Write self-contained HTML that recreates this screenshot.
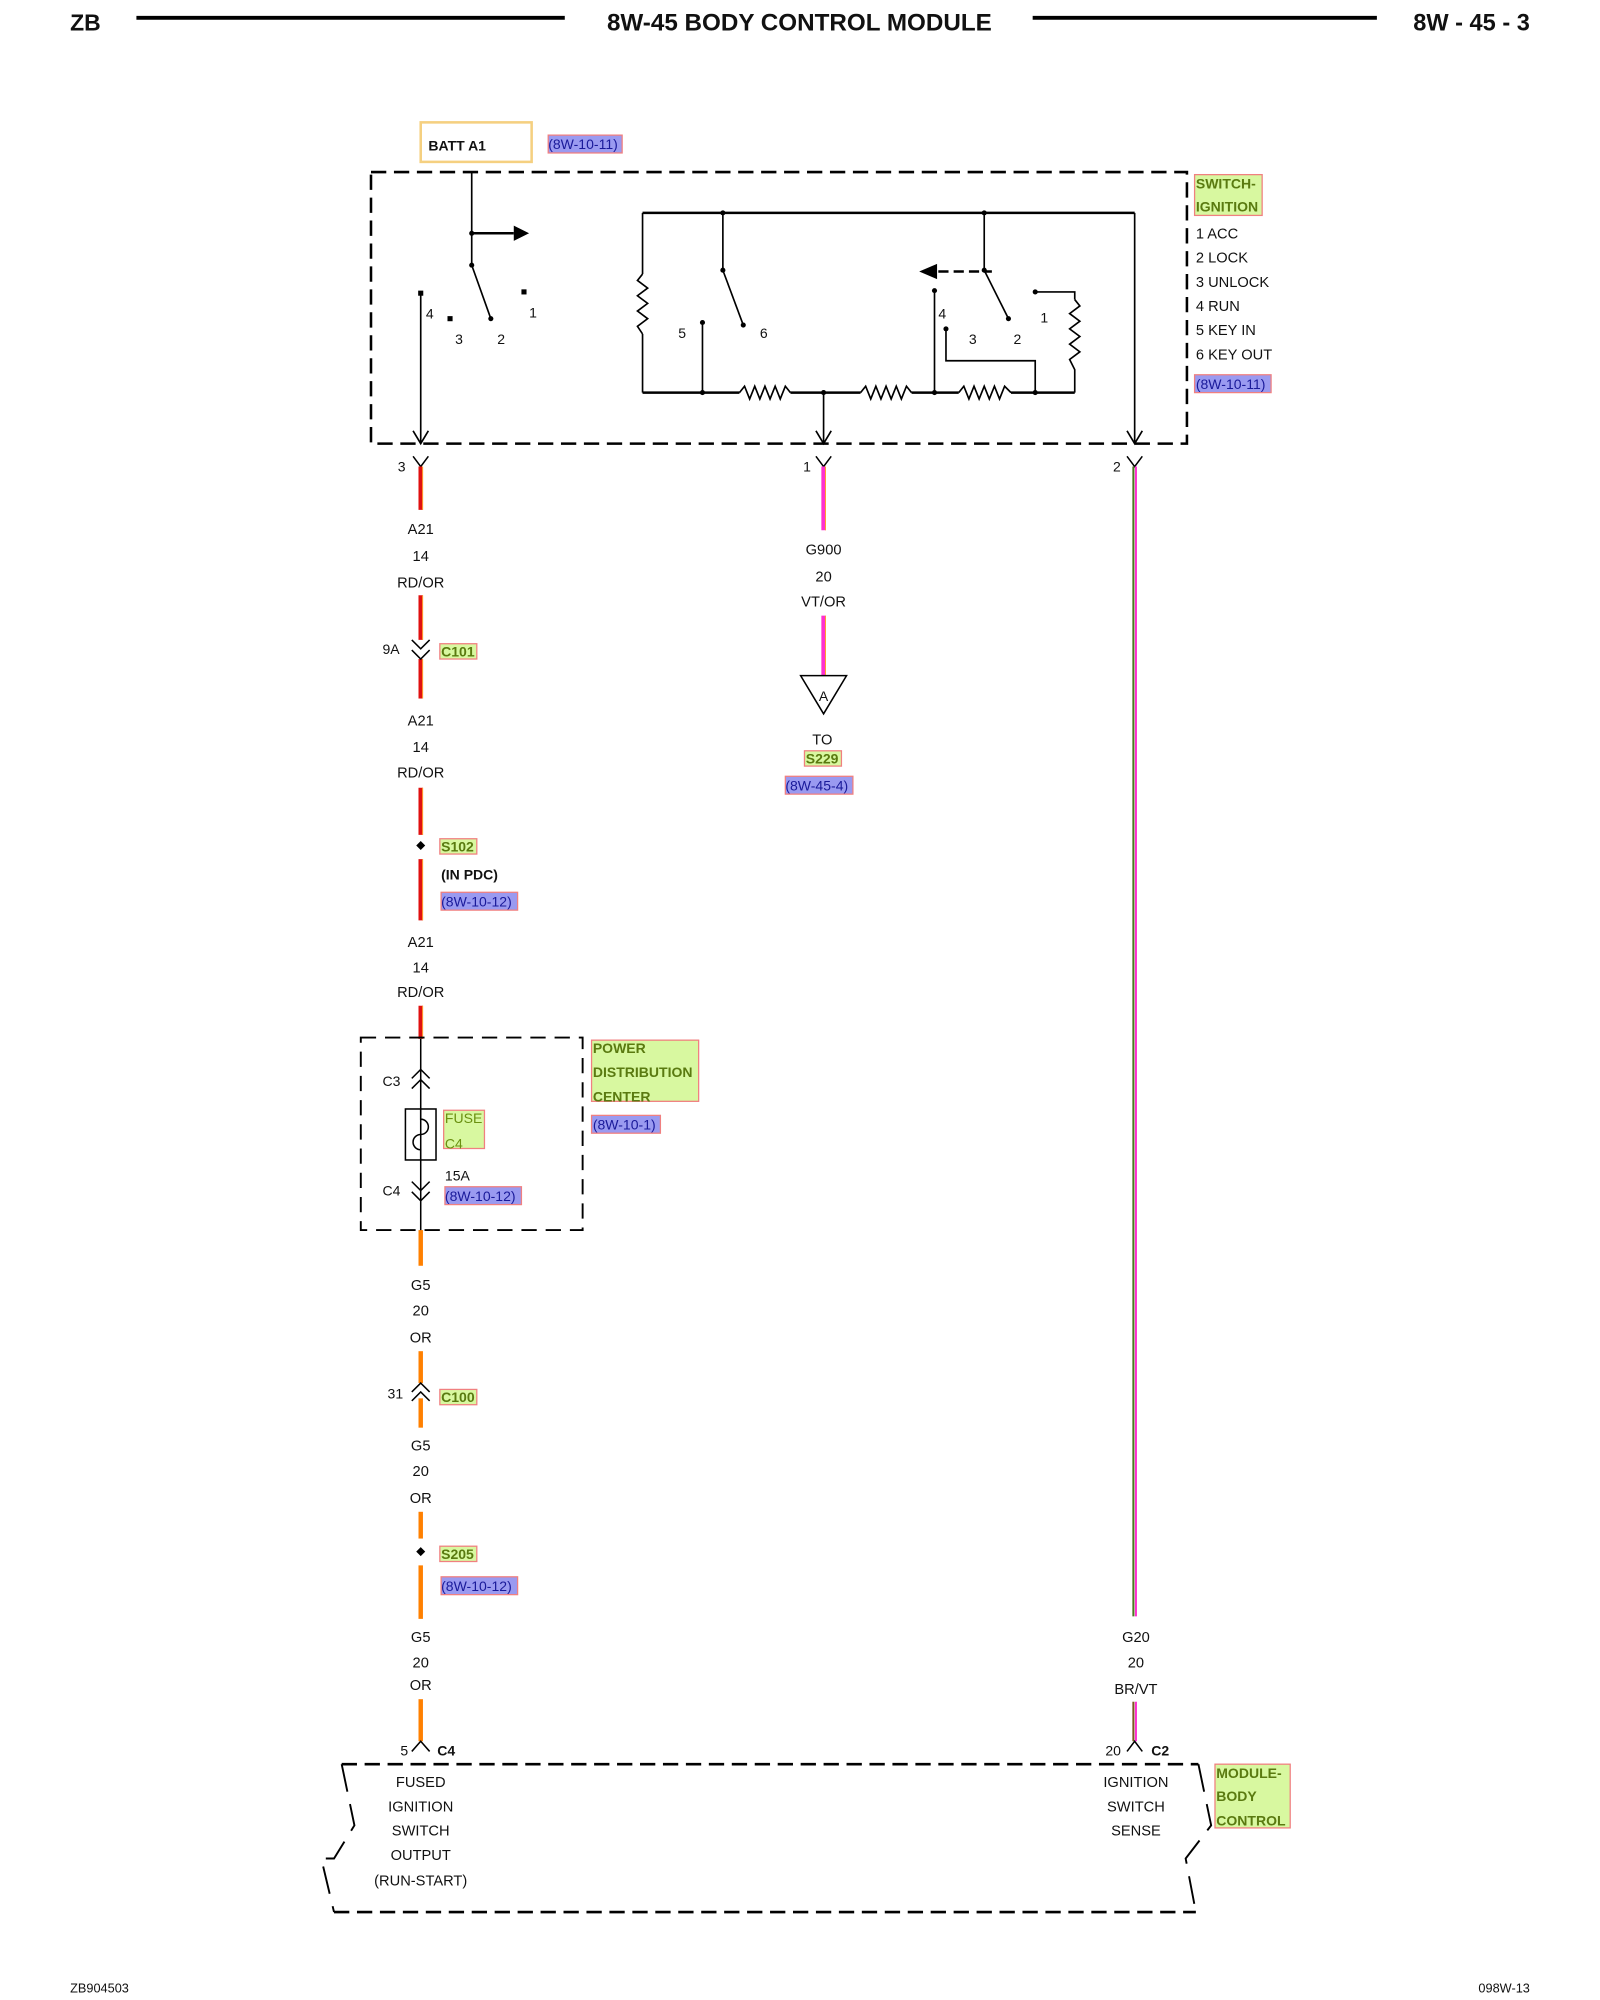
<!DOCTYPE html>
<html><head><meta charset="utf-8"><style>
html,body{margin:0;padding:0;background:#fff;}
svg{display:block;}
text{font-family:"Liberation Sans",Arial,sans-serif;fill:#111;}
.l{font-size:11.5px;text-anchor:middle;}
.g{font-size:11px;font-weight:bold;fill:#5a7a10;}
.b{font-size:11px;fill:#1a1a9a;}
</style></head><body>
<svg width="1600" height="2000" viewBox="0 0 1255 1569" preserveAspectRatio="none" xmlns="http://www.w3.org/2000/svg">
<!-- header -->
<text x="55" y="24" style="font-size:18px;font-weight:bold">ZB</text>
<line x1="107" y1="14" x2="443" y2="14" stroke="#000" stroke-width="3"/>
<text x="627" y="24" style="font-size:19px;font-weight:bold;text-anchor:middle">8W-45 BODY CONTROL MODULE</text>
<line x1="810" y1="14" x2="1080" y2="14" stroke="#000" stroke-width="3"/>
<text x="1200" y="24" style="font-size:18.5px;font-weight:bold;text-anchor:end">8W - 45 - 3</text>
<!-- footer -->
<text x="55" y="1563" style="font-size:10px">ZB904503</text>
<text x="1200" y="1563" style="font-size:10px;text-anchor:end">098W-13</text>

<!-- BATT -->
<rect x="330" y="96" width="87" height="31" fill="none" stroke="#f5d080" stroke-width="2"/>
<text x="336" y="118" style="font-size:11px;font-weight:bold">BATT A1</text>
<rect x="430" y="106" width="58" height="14" fill="#9a9af0" stroke="#f08080"/>
<text x="430" y="117" class="b">(8W-10-11)</text>

<!-- switch box -->
<rect x="291" y="135" width="640" height="213" fill="none" stroke="#000" stroke-width="2" stroke-dasharray="12,6"/>
<rect x="937" y="137" width="53" height="32" fill="#d8f8a0" stroke="#f08080"/>
<text x="938" y="148" class="g">SWITCH-</text>
<text x="938" y="166" class="g">IGNITION</text>
<g style="font-size:11.5px">
<text x="938" y="187">1 ACC</text><text x="938" y="206">2 LOCK</text><text x="938" y="225">3 UNLOCK</text>
<text x="938" y="244">4 RUN</text><text x="938" y="263">5 KEY IN</text><text x="938" y="282">6 KEY OUT</text></g>
<rect x="937" y="294" width="60" height="14" fill="#9a9af0" stroke="#f08080"/>
<text x="938" y="305" class="b">(8W-10-11)</text>

<g stroke="#000" stroke-width="1.3" fill="none">
<line x1="370" y1="135" x2="370" y2="208"/>
<line x1="370" y1="183" x2="403" y2="183" stroke-width="2"/>
<line x1="370" y1="208" x2="385" y2="250"/>
<line x1="330" y1="230" x2="330" y2="348"/>
<polyline points="324,338 330,348 336,338"/>
<line x1="504" y1="167" x2="890" y2="167" stroke-width="2"/>
<line x1="504" y1="167" x2="504" y2="215"/>
<polyline points="504,215 500,220 508,226 500,232 508,238 500,244 508,250 500,256 504,262"/>
<line x1="504" y1="262" x2="504" y2="308"/>
<line x1="504" y1="308" x2="580" y2="308" stroke-width="2"/>
<polyline points="580,308 584,303 588,313 592,303 596,313 600,303 604,313 608,303 612,313 616,303 620,308"/>
<line x1="620" y1="308" x2="675" y2="308" stroke-width="2"/>
<polyline points="675,308 679,303 683,313 687,303 691,313 695,303 699,313 703,303 707,313 711,303 715,308"/>
<line x1="715" y1="308" x2="752" y2="308" stroke-width="2"/>
<polyline points="752,308 756,303 760,313 764,303 768,313 772,303 776,313 780,303 784,313 788,303 793,308"/>
<line x1="793" y1="308" x2="843" y2="308" stroke-width="2"/>
<line x1="567" y1="167" x2="567" y2="212"/>
<line x1="567" y1="212" x2="583" y2="255"/>
<line x1="551" y1="253" x2="551" y2="308"/>
<line x1="646" y1="308" x2="646" y2="348"/>
<polyline points="640,338 646,348 652,338"/>
<line x1="733" y1="228" x2="733" y2="308"/>
<line x1="736" y1="213" x2="778" y2="213" stroke-dasharray="8,4" stroke-width="2"/>
<line x1="772" y1="167" x2="772" y2="212"/>
<line x1="772" y1="212" x2="791" y2="250"/>
<polyline points="742,258 742,283 812,283 812,308"/>
<polyline points="812,229 843,229 843,235"/>
<polyline points="843,235 847,240 839,246 847,252 839,258 847,264 839,270 847,276 839,282 843,290 843,308"/>
<line x1="890" y1="167" x2="890" y2="348"/>
<polyline points="884,338 890,348 896,338"/>
</g>
<polygon points="403,177 415,183 403,189" fill="#000"/>
<polygon points="735,207 721,213 735,219" fill="#000"/>
<g fill="#000">
<circle cx="370" cy="183" r="2"/><circle cx="370" cy="208" r="2"/>
<rect x="328" y="228" width="4" height="4"/><rect x="351" y="248" width="4" height="4"/><circle cx="385" cy="250" r="2"/><rect x="409" y="227" width="4" height="4"/>
<circle cx="567" cy="167" r="2"/><circle cx="772" cy="167" r="2"/><circle cx="567" cy="212" r="2"/><circle cx="772" cy="212" r="2"/>
<circle cx="583" cy="255" r="2"/><circle cx="791" cy="250" r="2"/><circle cx="551" cy="253" r="2"/>
<circle cx="551" cy="308" r="2"/><circle cx="646" cy="308" r="2"/><circle cx="733" cy="308" r="2"/><circle cx="812" cy="308" r="2"/>
<circle cx="733" cy="228" r="2"/><circle cx="742" cy="258" r="2"/><circle cx="812" cy="229" r="2"/>
</g>
<g style="font-size:11px">
<text x="334" y="250">4</text><text x="357" y="270">3</text><text x="390" y="270">2</text><text x="415" y="249">1</text>
<text x="532" y="265">5</text><text x="596" y="265">6</text>
<text x="736" y="250">4</text><text x="760" y="270">3</text><text x="795" y="270">2</text><text x="816" y="253">1</text>
</g>

<g style="font-size:11px"><text x="312" y="370">3</text><text x="630" y="370">1</text><text x="873" y="370">2</text></g>
<g stroke="#000" stroke-width="1.2" fill="none">
<polyline points="324,358 330,366 336,358"/><polyline points="640,358 646,366 652,358"/><polyline points="884,358 890,366 896,358"/>
</g>

<g stroke="#e01010" stroke-width="3.5">
<line x1="330" y1="366" x2="330" y2="400"/><line x1="330" y1="467" x2="330" y2="502"/>
<line x1="330" y1="517" x2="330" y2="548"/><line x1="330" y1="618" x2="330" y2="655"/>
<line x1="330" y1="674" x2="330" y2="722"/><line x1="330" y1="789" x2="330" y2="815"/>
</g>
<g stroke="#ffa030" stroke-width="0.8">
<line x1="331.5" y1="366" x2="331.5" y2="400"/><line x1="331.5" y1="467" x2="331.5" y2="502"/>
<line x1="331.5" y1="517" x2="331.5" y2="548"/><line x1="331.5" y1="618" x2="331.5" y2="655"/>
<line x1="331.5" y1="674" x2="331.5" y2="722"/><line x1="331.5" y1="789" x2="331.5" y2="815"/>
</g>
<text x="330" y="419" class="l">A21</text><text x="330" y="440" class="l">14</text><text x="330" y="461" class="l">RD/OR</text>
<g stroke="#000" stroke-width="1.2" fill="none"><polyline points="323,502 330,509 337,502"/><polyline points="323,510 330,517 337,510"/></g>
<text x="300" y="513" style="font-size:11px">9A</text>
<rect x="345" y="505" width="29" height="12" fill="#d8f8a0" stroke="#f08080"/>
<text x="346" y="515" class="g">C101</text>
<text x="330" y="569" class="l">A21</text><text x="330" y="590" class="l">14</text><text x="330" y="610" class="l">RD/OR</text>
<rect x="327" y="661" width="5" height="5" transform="rotate(45 330 664)" fill="#000"/>
<rect x="345" y="658" width="29" height="12" fill="#d8f8a0" stroke="#f08080"/>
<text x="346" y="668" class="g">S102</text>
<text x="346" y="690" style="font-size:11px;font-weight:bold">(IN PDC)</text>
<rect x="346" y="700" width="60" height="14" fill="#9a9af0" stroke="#f08080"/>
<text x="346" y="711" class="b">(8W-10-12)</text>
<text x="330" y="743" class="l">A21</text><text x="330" y="763" class="l">14</text><text x="330" y="782" class="l">RD/OR</text>

<rect x="283" y="814" width="174" height="151" fill="none" stroke="#000" stroke-width="1.5" stroke-dasharray="12,7"/>
<g stroke="#000" stroke-width="1.2" fill="none">
<line x1="330" y1="815" x2="330" y2="990"/>
<polyline points="323,846 330,839 337,846"/><polyline points="323,854 330,847 337,854"/>
<rect x="318" y="870" width="24" height="40"/>
<path d="M330,870 v8 a6,6 0 0 1 0,12 a6,6 0 0 0 0,12 v8"/>
<polyline points="323,927 330,934 337,927"/><polyline points="323,935 330,942 337,935"/>
</g>
<text x="300" y="852" style="font-size:11px">C3</text><text x="300" y="938" style="font-size:11px">C4</text>
<rect x="348" y="871" width="32" height="30" fill="#d8f8a0" stroke="#f08080"/>
<text x="349" y="881" style="font-size:11px;fill:#6a9010">FUSE</text><text x="349" y="901" style="font-size:11px;fill:#6a9010">C4</text>
<text x="349" y="926" style="font-size:11px">15A</text>
<rect x="349" y="931" width="60" height="14" fill="#9a9af0" stroke="#f08080"/>
<text x="349" y="942" class="b">(8W-10-12)</text>
<rect x="464" y="816" width="84" height="48" fill="#d8f8a0" stroke="#f08080"/>
<text x="465" y="826" class="g">POWER</text><text x="465" y="845" class="g">DISTRIBUTION</text><text x="465" y="864" class="g">CENTER</text>
<rect x="464" y="875" width="54" height="14" fill="#9a9af0" stroke="#f08080"/>
<text x="465" y="886" class="b">(8W-10-1)</text>

<g stroke="#ff8000" stroke-width="3.5">
<line x1="330" y1="965" x2="330" y2="993"/><line x1="330" y1="1060" x2="330" y2="1085"/>
<line x1="330" y1="1097" x2="330" y2="1120"/><line x1="330" y1="1186" x2="330" y2="1207"/>
<line x1="330" y1="1228" x2="330" y2="1270"/><line x1="330" y1="1333" x2="330" y2="1366"/>
</g>
<text x="330" y="1012" class="l">G5</text><text x="330" y="1032" class="l">20</text><text x="330" y="1053" class="l">OR</text>
<g stroke="#000" stroke-width="1.2" fill="none"><polyline points="323,1092 330,1085 337,1092"/><polyline points="323,1099 330,1092 337,1099"/></g>
<text x="304" y="1097" style="font-size:11px">31</text>
<rect x="345" y="1090" width="29" height="12" fill="#d8f8a0" stroke="#f08080"/>
<text x="346" y="1100" class="g">C100</text>
<text x="330" y="1138" class="l">G5</text><text x="330" y="1158" class="l">20</text><text x="330" y="1179" class="l">OR</text>
<rect x="327" y="1215" width="5" height="5" transform="rotate(45 330 1218)" fill="#000"/>
<rect x="345" y="1213" width="29" height="12" fill="#d8f8a0" stroke="#f08080"/>
<text x="346" y="1223" class="g">S205</text>
<rect x="346" y="1237" width="60" height="14" fill="#9a9af0" stroke="#f08080"/>
<text x="346" y="1248" class="b">(8W-10-12)</text>
<text x="330" y="1288" class="l">G5</text><text x="330" y="1308" class="l">20</text><text x="330" y="1326" class="l">OR</text>

<g stroke="#ff30d0" stroke-width="3.5"><line x1="646" y1="366" x2="646" y2="416"/><line x1="646" y1="483" x2="646" y2="530"/></g>
<g stroke="#ffa030" stroke-width="0.8"><line x1="647.5" y1="366" x2="647.5" y2="416"/><line x1="647.5" y1="483" x2="647.5" y2="530"/></g>
<text x="646" y="435" class="l">G900</text><text x="646" y="456" class="l">20</text><text x="646" y="476" class="l">VT/OR</text>
<polygon points="628,530 664,530 646,560" fill="none" stroke="#000" stroke-width="1.2"/>
<text x="646" y="550" class="l" style="font-size:11px">A</text>
<text x="645" y="584" class="l">TO</text>
<rect x="631" y="589" width="29" height="12" fill="#d8f8a0" stroke="#f08080"/>
<text x="632" y="599" class="g">S229</text>
<rect x="616" y="609" width="53" height="14" fill="#9a9af0" stroke="#f08080"/>
<text x="616" y="620" class="b">(8W-45-4)</text>

<g stroke-width="1.6">
<line x1="889" y1="366" x2="889" y2="1268" stroke="#4a7a20"/><line x1="891" y1="366" x2="891" y2="1268" stroke="#ff30d0"/>
<line x1="889" y1="1335" x2="889" y2="1366" stroke="#7a5a20"/><line x1="891" y1="1335" x2="891" y2="1366" stroke="#ff30d0"/>
</g>
<text x="891" y="1288" class="l">G20</text><text x="891" y="1308" class="l">20</text><text x="891" y="1329" class="l">BR/VT</text>

<g stroke="#000" stroke-width="1.2" fill="none"><polyline points="323,1374 330,1366 337,1374"/><polyline points="884,1374 890,1366 896,1374"/></g>
<text x="314" y="1377" style="font-size:11px">5</text><text x="343" y="1377" style="font-size:11px;font-weight:bold">C4</text>
<text x="867" y="1377" style="font-size:11px">20</text><text x="903" y="1377" style="font-size:11px;font-weight:bold">C2</text>
<g stroke="#000" stroke-width="2" fill="none">
<line x1="268" y1="1384" x2="940" y2="1384" stroke-dasharray="12,6"/>
<line x1="262" y1="1500" x2="938" y2="1500" stroke-dasharray="12,6"/>
<polyline points="268,1384 278,1432 262,1458 252,1458 262,1500" stroke-width="1.5" stroke-dasharray="22,10"/>
<polyline points="940,1384 950,1432 930,1458 938,1500" stroke-width="1.5" stroke-dasharray="22,10"/>
</g>
<text x="330" y="1402" class="l">FUSED</text><text x="330" y="1421" class="l">IGNITION</text><text x="330" y="1440" class="l">SWITCH</text>
<text x="330" y="1459" class="l">OUTPUT</text><text x="330" y="1479" class="l">(RUN-START)</text>
<text x="891" y="1402" class="l">IGNITION</text><text x="891" y="1421" class="l">SWITCH</text><text x="891" y="1440" class="l">SENSE</text>
<rect x="953" y="1384" width="59" height="50" fill="#d8f8a0" stroke="#f08080"/>
<text x="954" y="1395" class="g">MODULE-</text><text x="954" y="1413" class="g">BODY</text><text x="954" y="1432" class="g">CONTROL</text>
</svg>
</body></html>
